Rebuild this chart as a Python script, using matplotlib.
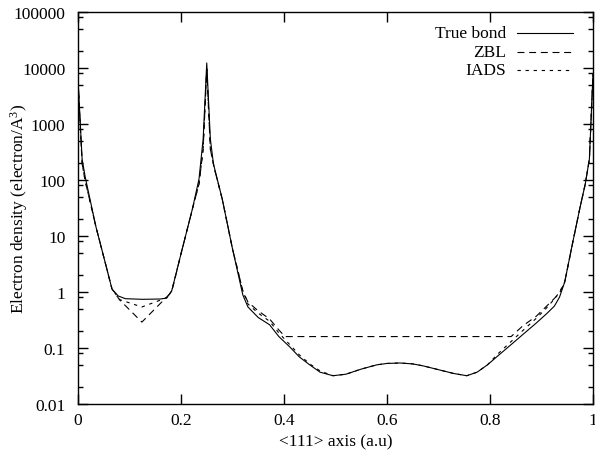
import matplotlib
matplotlib.use('Agg')
import matplotlib.pyplot as plt
from matplotlib.ticker import FixedLocator, LogLocator, FuncFormatter, NullLocator

plt.rcParams['font.family'] = ['Liberation Serif', 'DejaVu Serif']
plt.rcParams['mathtext.fontset'] = 'custom'
plt.rcParams['mathtext.rm'] = 'Liberation Serif'
plt.rcParams['mathtext.it'] = 'Liberation Serif:italic'
plt.rcParams['lines.scale_dashes'] = False

# densite electronique le long de l'axe <111>
true_x = [0.000, 0.008, 0.014, 0.035, 0.055, 0.066, 0.078, 0.092, 0.125, 0.160,
          0.172, 0.182, 0.200, 0.222, 0.235, 0.243, 0.250, 0.257, 0.263, 0.280,
          0.300, 0.320, 0.330, 0.350, 0.372, 0.390, 0.411, 0.430, 0.450, 0.470,
          0.495, 0.520, 0.550, 0.580, 0.600, 0.625, 0.650, 0.670, 0.700, 0.730,
          0.755, 0.775, 0.795, 0.815, 0.840, 0.865, 0.890, 0.910, 0.925, 0.935,
          0.945, 0.960, 0.975, 0.985, 0.993, 1.000]
true_rho = [6300, 237, 113, 14.4, 2.8, 1.13, 0.85, 0.76, 0.74, 0.75,
            0.78, 1.05, 4.8, 30, 105, 540, 12300, 540, 194, 46,
            5.9, 0.89, 0.54, 0.35, 0.26, 0.16, 0.105, 0.069, 0.050, 0.037,
            0.032, 0.034, 0.042, 0.050, 0.053, 0.054, 0.052, 0.048, 0.041, 0.035,
            0.032, 0.037, 0.050, 0.072, 0.113, 0.178, 0.28, 0.41, 0.56, 0.81,
            1.5, 7.2, 33, 85, 237, 7800]

zbl_x = [0.000, 0.008, 0.014, 0.035, 0.055, 0.066, 0.081, 0.124, 0.178, 0.184,
         0.200, 0.222, 0.235, 0.243, 0.250, 0.257, 0.265, 0.280, 0.300, 0.320,
         0.330, 0.350, 0.372, 0.390, 0.402, 0.841, 0.864, 0.890, 0.920, 0.935,
         0.945, 0.960, 0.975, 0.985, 0.993, 1.000]
zbl_rho = [6300, 194, 96, 14.4, 2.8, 1.13, 0.72, 0.29, 0.92, 1.2,
           4.8, 30, 85, 355, 9600, 355, 157, 46, 5.9, 1.05,
           0.66, 0.46, 0.33, 0.21, 0.16, 0.16, 0.25, 0.37, 0.69, 0.95,
           1.5, 7.2, 33, 85, 237, 7800]

iads_x = [0.000, 0.008, 0.014, 0.035, 0.055, 0.066, 0.081, 0.124, 0.174, 0.182,
          0.200, 0.222, 0.235, 0.243, 0.250, 0.257, 0.265, 0.280, 0.300, 0.320,
          0.330, 0.350, 0.372, 0.390, 0.410, 0.430, 0.450, 0.470, 0.495, 0.520,
          0.550, 0.580, 0.600, 0.625, 0.650, 0.670, 0.700, 0.730, 0.755, 0.775,
          0.795, 0.815, 0.840, 0.865, 0.890, 0.910, 0.925, 0.935, 0.945, 0.960,
          0.975, 0.985, 0.993, 1.000]
iads_rho = [6300, 194, 96, 14.4, 2.8, 1.13, 0.73, 0.54, 0.80, 1.05,
            4.8, 30, 85, 355, 9600, 355, 157, 46, 5.9, 1.05,
            0.61, 0.42, 0.30, 0.186, 0.118, 0.075, 0.052, 0.039, 0.032, 0.034,
            0.042, 0.050, 0.053, 0.054, 0.052, 0.048, 0.041, 0.035, 0.032, 0.037,
            0.050, 0.078, 0.128, 0.21, 0.34, 0.52, 0.75, 1.0, 1.5, 7.2,
            33, 85, 237, 7800]

labels = ['True bond', 'ZBL', 'IADS']
x_ticks = [0, 0.2, 0.4, 0.6, 0.8, 1]
y_ticks = [0.01, 0.1, 1, 10, 100, 1000, 10000, 100000]

fig = plt.figure(figsize=(5.95, 4.52), dpi=100)
ax = fig.add_axes([78 / 595, 47 / 452, 515 / 595, 392 / 452])

styles = [dict(linestyle='-'), dict(dashes=(5, 3.4)), dict(dashes=(2.4, 3.4))]
series = [(true_x, true_rho), (zbl_x, zbl_rho), (iads_x, iads_rho)]
for (xs, ys), st in zip(series, styles):
    ax.plot(xs, ys, color='black', linewidth=0.8, **st)

ax.set_yscale('log')
ax.set_xlim(0, 1)
ax.set_ylim(0.01, 100000)

ax.xaxis.set_major_locator(FixedLocator(x_ticks))
ax.xaxis.set_major_formatter(FuncFormatter(lambda v, p: '%g' % v))
ax.xaxis.set_minor_locator(NullLocator())
ax.yaxis.set_major_locator(FixedLocator(y_ticks))
ax.yaxis.set_minor_locator(LogLocator(base=10, subs=(2, 5, 8)))
ax.yaxis.set_major_formatter(FuncFormatter(lambda v, p: '%g' % v))

ax.tick_params(which='both', direction='in', top=True, right=True, width=1, labelsize=12.5)
ax.tick_params(which='major', length=7)
ax.tick_params(which='minor', length=3.5)
ax.tick_params(axis='x', pad=6)
ax.tick_params(axis='y', pad=9)
for sp in ax.spines.values():
    sp.set_linewidth(1)

ax.set_xlabel('<111> axis (a.u)', fontsize=12.5, labelpad=4)
ax.set_ylabel(r'Electron density (electron/A$^{\mathrm{3}}$)', fontsize=12.5)
ax.yaxis.set_label_coords(-0.094, 0.5)

# legende dessinee a la main, comme gnuplot
rows = [0.946, 0.899, 0.852]
for lab, st, yy in zip(labels, styles, rows):
    ax.plot([0.852, 0.961], [yy, yy], transform=ax.transAxes, color='black', linewidth=0.8, **st)
    ax.text(0.831, yy, lab, transform=ax.transAxes, ha='right', va='center', fontsize=12.5)

fig.savefig('out.png', dpi=100)
